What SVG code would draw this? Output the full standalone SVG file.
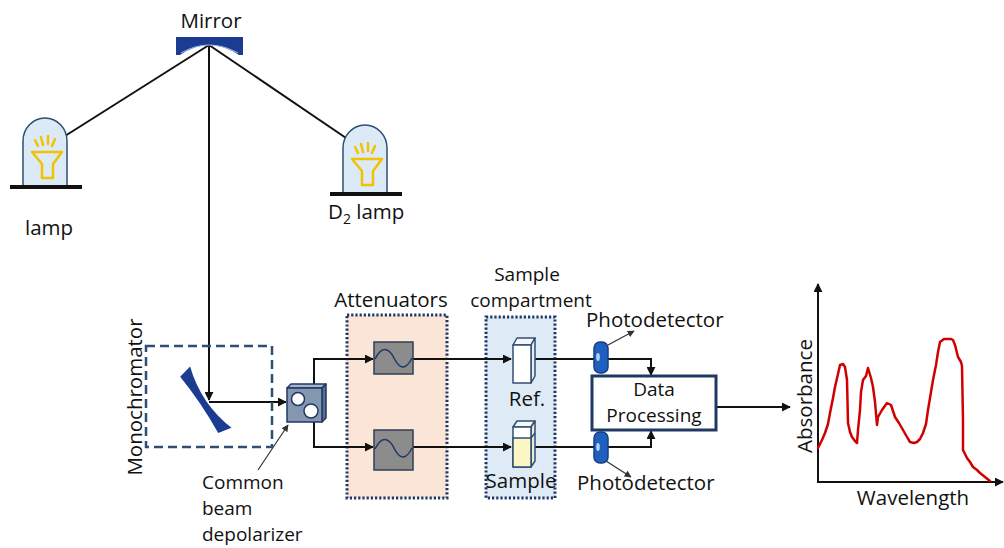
<svg xmlns="http://www.w3.org/2000/svg" width="1004" height="548" viewBox="0 0 1004 548">
  <style>
    text { font-family: "Open Sans", "Noto Sans", "Liberation Sans", sans-serif; fill: #111; font-size: 20.5px; }
    .stack { font-size: 19px; }
    .ray { stroke: #f2c200; stroke-width: 2.5; stroke-linecap: round; fill: none; }
    .beam { stroke: #111; stroke-width: 2; fill: none; }
    .thin { stroke: #333; stroke-width: 1.2; fill: none; }
    .dotbox { stroke: #1f3864; stroke-width: 3; stroke-dasharray: 2.2 2; }
    .cuv { stroke: #2f4f6f; stroke-width: 1.5; stroke-linejoin: round; }
    .pd { fill: #1f5fc0; stroke: #153f85; stroke-width: 1.5; }
    .att { fill: #8c8c8c; stroke: #2f3f55; stroke-width: 1.5; }
    .wave { stroke: #1f3864; stroke-width: 1.5; fill: none; }
  </style>
  <defs>
    <marker id="arr" viewBox="0 0 10 10" refX="9" refY="5" markerWidth="9" markerHeight="9" markerUnits="userSpaceOnUse" orient="auto">
      <path d="M0,0 L10,5 L0,10 Z" fill="#111"/>
    </marker>
    <marker id="arrS" viewBox="0 0 10 10" refX="9" refY="5" markerWidth="7" markerHeight="7" markerUnits="userSpaceOnUse" orient="auto">
      <path d="M0,0 L10,5 L0,10 Z" fill="#333"/>
    </marker>
    <g id="lampIcon">
      <path d="M23,185 V141 A22,23 0 0 1 67,141 V185" fill="#dce9f7" stroke="#2f4f6f" stroke-width="1.5"/>
      <path d="M32,152 H62 L53,164 V178 H42 V164 Z" class="ray" stroke-linejoin="round"/>
      <line x1="35" y1="140" x2="38" y2="146" class="ray"/>
      <line x1="41" y1="137" x2="43" y2="145" class="ray"/>
      <line x1="48" y1="136" x2="48" y2="144" class="ray"/>
      <line x1="55" y1="139" x2="52" y2="146" class="ray"/>
      <rect x="10" y="185" width="72" height="4" fill="#111"/>
    </g>
  </defs>

  <rect width="1004" height="548" fill="#fff"/>

  <!-- background boxes -->
  <g id="attenuators-box">
    <rect x="347" y="315" width="100" height="183" fill="#fbe5d6" class="dotbox"/>
    <text x="391" y="307" text-anchor="middle">Attenuators</text>
  </g>
  <g id="sample-compartment-box">
    <rect x="486" y="317" width="69" height="181" fill="#deebf7" class="dotbox"/>
    <text text-anchor="middle" class="stack"><tspan x="527" y="281">Sample</tspan><tspan x="531" y="307">compartment</tspan></text>
  </g>

  <!-- light path and signal connectors -->
  <g id="connectors">
    <line x1="209" y1="45" x2="65" y2="136" class="beam"/>
    <line x1="209" y1="45" x2="349" y2="140" class="beam"/>
    <line x1="209" y1="45" x2="209" y2="400" class="beam" marker-end="url(#arr)"/>
    <line x1="209" y1="402" x2="286" y2="402" class="beam" stroke-width="1.5" marker-end="url(#arr)"/>
    <polyline points="314,384 314,359 373,359" class="beam" stroke-width="1.5" marker-end="url(#arr)"/>
    <polyline points="314,422 314,447 373,447" class="beam" stroke-width="1.5" marker-end="url(#arr)"/>
    <line x1="413" y1="359" x2="511" y2="359" class="beam" stroke-width="1.5" marker-end="url(#arr)"/>
    <line x1="413" y1="447" x2="511" y2="447" class="beam" stroke-width="1.5" marker-end="url(#arr)"/>
    <line x1="535" y1="359" x2="595" y2="359" class="beam"/>
    <line x1="535" y1="447" x2="595" y2="447" class="beam"/>
    <polyline points="607,359 651,359 651,375" class="beam" marker-end="url(#arr)"/>
    <polyline points="607,447 651,447 651,431" class="beam" marker-end="url(#arr)"/>
    <line x1="716" y1="407" x2="790" y2="407" class="beam" marker-end="url(#arr)"/>
    <line x1="608" y1="345" x2="634" y2="331" class="thin" marker-end="url(#arrS)"/>
    <line x1="606" y1="461" x2="631" y2="477" class="thin" marker-end="url(#arrS)"/>
    <line x1="258" y1="470" x2="288" y2="425" class="thin" marker-end="url(#arrS)"/>
  </g>

  <!-- mirror -->
  <g id="mirror">
    <path d="M176,37 H243 V55 H239 Q209,35 180,55 H176 Z" fill="#1b3c90"/>
    <path d="M181,53 Q209,37 238,53" fill="none" stroke="#9fc0ef" stroke-width="1"/>
    <text x="211" y="28" text-anchor="middle">Mirror</text>
  </g>

  <!-- lamps -->
  <g id="lamp">
    <use href="#lampIcon"/>
    <text x="25" y="235">lamp</text>
  </g>
  <g id="d2-lamp">
    <use href="#lampIcon" transform="translate(320,7)"/>
    <text x="328" y="219">D<tspan font-size="14" dy="5">2</tspan><tspan dy="-5"> lamp</tspan></text>
  </g>

  <!-- monochromator -->
  <g id="monochromator">
    <rect x="146" y="346" width="126" height="101" fill="none" stroke="#2e4e72" stroke-width="2.5" stroke-dasharray="9 5"/>
    <path d="M-7,-34 L7,-37 Q-5,0 7,37 L-7,34 Q-4,0 -7,-34 Z" fill="#1b3c90" transform="translate(205,401) rotate(-34)"/>
    <text transform="translate(142,397) rotate(-90)" text-anchor="middle" font-size="21.5">Monochromator</text>
  </g>

  <!-- depolarizer -->
  <g id="depolarizer">
    <path d="M287,388 L291,384 L326,384 L322,388 Z" fill="#a9b6c9" stroke="#1f3864" stroke-width="1.5" stroke-linejoin="round"/>
    <path d="M322,388 L326,384 L326,418 L322,422 Z" fill="#5b6f8c" stroke="#1f3864" stroke-width="1.5" stroke-linejoin="round"/>
    <rect x="287" y="388" width="35" height="34" fill="#8496b0" stroke="#1f3864" stroke-width="1.5"/>
    <circle cx="298" cy="399" r="6.5" fill="#fff" stroke="#1f3864" stroke-width="1.5"/>
    <circle cx="311" cy="411" r="7" fill="#fff" stroke="#1f3864" stroke-width="1.5"/>
    <text class="stack"><tspan x="202" y="489">Common</tspan><tspan x="202" y="515">beam</tspan><tspan x="202" y="541">depolarizer</tspan></text>
  </g>

  <!-- attenuators -->
  <g id="attenuator-ref">
    <rect x="374" y="342" width="39" height="32" class="att"/>
    <path d="M375,359 C382,345 389,348 394,358 S405,372 412,358" class="wave"/>
  </g>
  <g id="attenuator-sample">
    <rect x="374" y="430" width="39" height="40" class="att"/>
    <path d="M375,449 C382,435 389,438 394,448 S405,462 412,448" class="wave"/>
  </g>

  <!-- cuvettes -->
  <g id="ref-cuvette">
    <path d="M513,345 L517,338 L535,338 L531,345 Z" fill="#f4f7fb" class="cuv"/>
    <path d="M531,345 L535,338 L535,376 L531,383 Z" fill="#e6ecf4" class="cuv"/>
    <rect x="513" y="345" width="18" height="38" fill="#fff" class="cuv"/>
    <text x="527" y="406" text-anchor="middle">Ref.</text>
  </g>
  <g id="sample-cuvette">
    <path d="M513,427 L517,421 L535,421 L531,427 Z" fill="#f4f7fb" class="cuv"/>
    <path d="M531,427 L535,421 L535,461 L531,467 Z" fill="#e8ecd8" class="cuv"/>
    <rect x="513" y="427" width="18" height="40" fill="#fff" class="cuv"/>
    <rect x="513" y="438" width="18" height="29" fill="#fcf5c4" class="cuv"/>
    <line x1="531" y1="438" x2="535" y2="433" class="cuv"/>
    <text x="521" y="488" text-anchor="middle">Sample</text>
  </g>

  <!-- photodetectors -->
  <g id="photodetector-ref">
    <rect x="594" y="342" width="14" height="31" rx="6" class="pd"/>
    <ellipse cx="598" cy="357" rx="1.8" ry="4" fill="#b9d0f5"/>
    <text x="586" y="327">Photodetector</text>
  </g>
  <g id="photodetector-sample">
    <rect x="594" y="432" width="14" height="31" rx="6" class="pd"/>
    <ellipse cx="598" cy="447" rx="1.8" ry="4" fill="#b9d0f5"/>
    <text x="577" y="490">Photodetector</text>
  </g>

  <!-- data processing -->
  <g id="data-processing">
    <rect x="592" y="376" width="124" height="54" fill="#fff" stroke="#1f3864" stroke-width="3"/>
    <text text-anchor="middle" class="stack"><tspan x="654" y="396">Data</tspan><tspan x="654" y="422">Processing</tspan></text>
  </g>

  <!-- absorbance spectrum -->
  <g id="spectrum">
    <line x1="818" y1="482" x2="818" y2="284" class="beam" marker-end="url(#arr)"/>
    <line x1="817" y1="482" x2="1003" y2="482" class="beam" marker-end="url(#arr)"/>
    <polyline fill="none" stroke="#d00000" stroke-width="2.5" stroke-linejoin="round" stroke-linecap="round"
      points="818,448 822,440 825,433 828,424 830,413 833,398 835,387 838,374 840,365 843,364 845,367 847,380 848,423 850,432 852,437 855,441 857,443 858,430 860,410 861,392 863,380 866,376 868,368 871,378 873,387 875,402 877,425 878,417 882,410 887,403 891,405 895,417 899,423 903,430 907,437 910,442 914,443 917,442 920,439 923,433 926,424 928,410 930,398 933,380 936,365 938,352 940,342 944,339 947,339 951,339 953,340 955,345 958,357 961,362 962,366 963,420 963,450 967,458 970,462 973,467 977,470 980,473 985,477 990,481"/>
    <text transform="translate(812,396) rotate(-90)" text-anchor="middle" font-size="22">Absorbance</text>
    <text x="913" y="505" text-anchor="middle" font-size="22">Wavelength</text>
  </g>
</svg>
